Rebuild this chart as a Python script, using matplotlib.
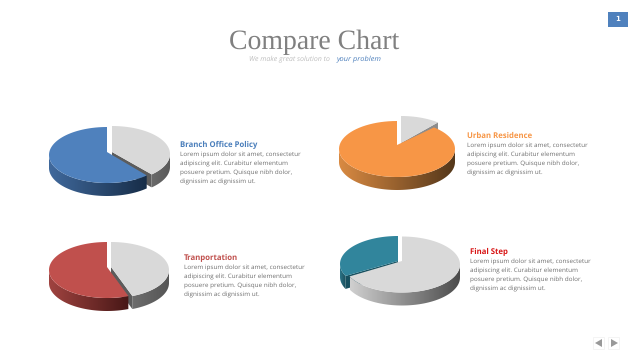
import numpy as np
import matplotlib
matplotlib.use("Agg")
import matplotlib.pyplot as plt
from matplotlib.colors import LinearSegmentedColormap
from matplotlib.patches import Polygon, Rectangle

plt.rcParams["text.hinting"] = "no_hinting"

# share of the coloured slice in each pie (the grey slice is the rest)
pie_names = ["Branch Office Policy", "Urban Residence", "Tranportation", "Final Step"]
color_shares = [62, 89, 56, 32]
grey_shares = [38, 11, 44, 68]

body_lines = [
    "Lorem ipsum dolor sit amet, consectetur",
    "adipiscing elit. Curabitur elementum",
    "posuere pretium. Quisque nibh dolor,",
    "dignissim ac dignissim ut.",
]

title = "Compare Chart"
sub_grey = "We make great solution to"
sub_blue = "your problem"
page_number = "1"

pie_colors = ["#4f81bd", "#f79646", "#c0504d", "#31859c"]
side_colors = [("#40699c", "#172d48"), ("#d98a42", "#54371a"),
               ("#a04340", "#471716"), ("#2b7487", "#1b4d5a")]
cut_colors = ["#5c5c5c", "#8c8c8c", "#5c5c5c", "#17505f"]
grey_sides = [("#6a6a6a", "#585858"), ("#8c8c8c", "#8c8c8c"),
              ("#6e6e6e", "#555555"), ("#d0d0d0", "#4a4a4a")]
head_colors = ["#4a7ebb", "#f79646", "#c0504d", "#d81515"]

# layout: (apex x, apex y, centre y) of coloured and grey slice, radii, depth
color_geo = [(107, 152, 155), (397, 145, 149), (107, 267, 270), (398, 261, 264)]
grey_geo = [(112, 152, 154), (401, 143, 144), (111, 267, 270), (402, 261, 264.5)]
rx, ry, depth = 58, 28, 13
text_pos = [(180, 147), (467, 138), (184, 260), (470, 254)]
grey_first = [True, True, True, False]

fig = plt.figure(figsize=(6.4, 3.6), dpi=100, facecolor="white")
ax = fig.add_axes([0, 0, 1, 1])


def arc(ax_x, cy, t0, t1):
    t = np.radians(np.linspace(t0, t1, 80))
    return np.column_stack([ax_x + rx * np.sin(t), cy - ry * np.cos(t)])


def draw_slice(ax_x, ax_y, cy, t0, t1, top, side, cut, edge_t, show_cut):
    # outer wall, only the part that faces the viewer
    a, b = max(t0, 90), min(t1, 270)
    if a < b:
        upper = arc(ax_x, cy, a, b)
        lower = upper[::-1] + [0, depth]
        poly = Polygon(np.vstack([upper, lower]), closed=True, fc="none", ec="none")
        ax.add_patch(poly)
        cmap = LinearSegmentedColormap.from_list("s", [side[0], side[1]])
        im = ax.imshow(np.linspace(0, 1, 256)[None, :], cmap=cmap, aspect="auto",
                       extent=[upper[:, 0].min(), upper[:, 0].max(), cy + ry + depth + 1, cy - ry],
                       zorder=2)
        im.set_clip_path(poly)
    # cut face under the slanted edge
    if show_cut:
        tip = arc(ax_x, cy, edge_t, edge_t)[0]
        ax.add_patch(Polygon([(ax_x, ax_y), tip, tip + [0, depth], (ax_x, ax_y + depth)],
                             closed=True, fc=cut, ec="none", zorder=2))
    pts = np.vstack([[(ax_x, ax_y)], arc(ax_x, cy, t0, t1)])
    ax.add_patch(Polygon(pts, closed=True, fc=top, ec="none", zorder=2))


for i in range(4):
    sweep_c = color_shares[i] * 3.6
    sweep_g = grey_shares[i] * 3.6
    parts = [
        (color_geo[i], 360 - sweep_c, 360, pie_colors[i], side_colors[i], cut_colors[i], 360 - sweep_c),
        (grey_geo[i], 0, sweep_g, "#d9d9d9", grey_sides[i], cut_colors[i], sweep_g),
    ]
    if grey_first[i]:
        parts = parts[::-1]
    for k, (geo, t0, t1, top, side, cut, edge_t) in enumerate(parts):
        draw_slice(geo[0], geo[1], geo[2], t0, t1, top, side, cut, edge_t, k == 0)

    x, y = text_pos[i]
    ax.text(x, y, pie_names[i], color=head_colors[i], fontsize=5.6, fontweight="bold",
            family="Open Sans", va="baseline", ha="left")
    for j, line in enumerate(body_lines):
        ax.text(x, y + 10 + j * 8.8, line, color="#6f6f6f", fontsize=4.6,
                family="Open Sans", va="baseline", ha="left")

ax.text(314.5, 42, title, color="#808080", fontsize=20, family="Liberation Serif",
        va="center", ha="center")
ax.text(249, 61, sub_grey, color="#bfbfbf", fontsize=5, style="italic", family="Open Sans",
        va="baseline", ha="left")
ax.text(337, 61, sub_blue, color="#4f81bd", fontsize=5.4, style="italic", family="Open Sans",
        va="baseline", ha="left")

# page number and navigation buttons
ax.add_patch(Rectangle((608, 12), 20, 15, fc="#4f81bd", ec="none"))
ax.text(618, 19.5, page_number, color="white", fontsize=5, fontweight="bold",
        va="center", ha="center")
for bx, pts in [(593, [(602, 339), (602, 347), (595, 343)]),
                (608, [(611, 339), (611, 347), (618, 343)])]:
    ax.add_patch(Rectangle((bx, 337), 11, 12, fc="white", ec="#f2f2f2", lw=0.6))
    ax.add_patch(Polygon(pts, closed=True, fc="#999999", ec="none"))

ax.set_xlim(0, 640)
ax.set_ylim(360, 0)
ax.axis("off")
plt.savefig("out.png", dpi=100)
